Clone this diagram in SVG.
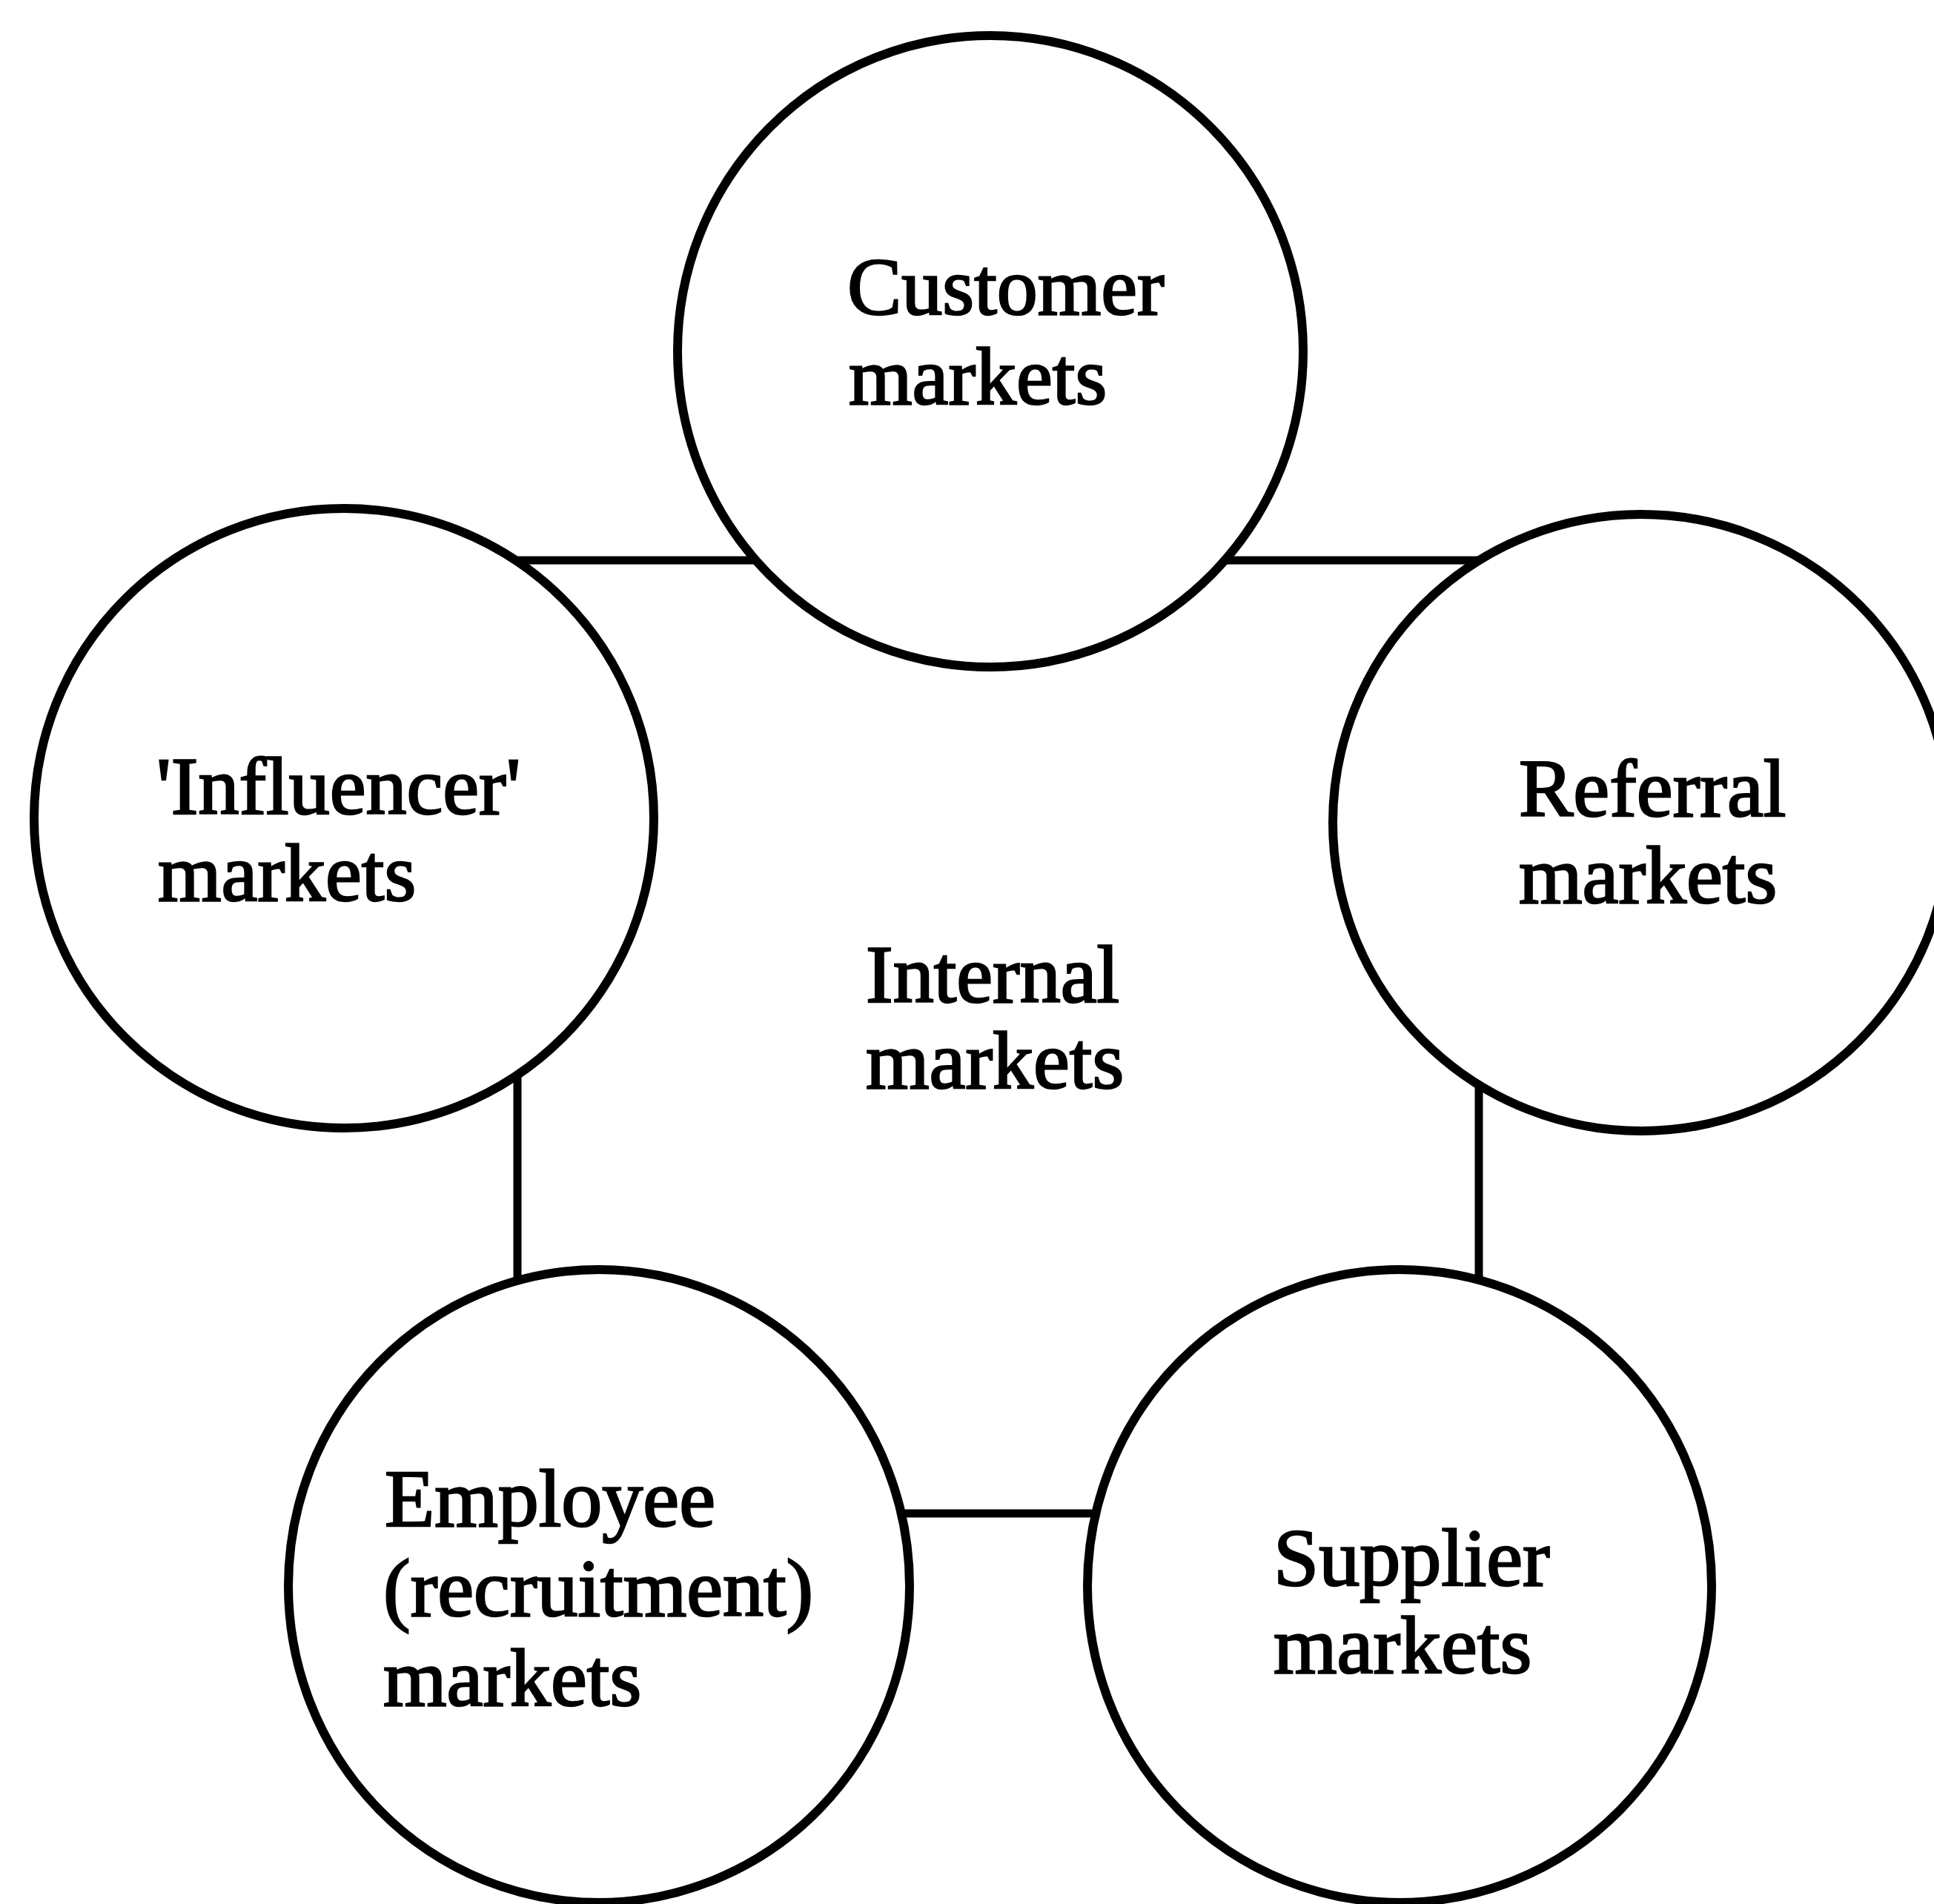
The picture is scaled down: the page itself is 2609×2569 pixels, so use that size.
<svg xmlns="http://www.w3.org/2000/svg" width="2609" height="2569" viewBox="0 0 2609 2569">
  <style>
    .bg { fill: #ffffff; }
    .link { stroke: #000000; stroke-width: 11; fill: none; }
    .market { fill: #ffffff; stroke: #000000; stroke-width: 12; }
    .label { font-family: "Liberation Serif", "DejaVu Serif", serif; font-size: 110px; fill: #000000; stroke: #000000; stroke-width: 2.5; }
  </style>
  <rect class="bg" x="0" y="0" width="2609" height="2569"/>

  <!-- frame joining the five outer markets -->
  <g id="connectors">
    <line class="link" x1="600" y1="756" x2="1100" y2="756"/>
    <line class="link" x1="1580" y1="756" x2="2100" y2="756"/>
    <line class="link" x1="698" y1="1400" x2="698" y2="1800"/>
    <line class="link" x1="1995" y1="1400" x2="1995" y2="1800"/>
    <line class="link" x1="1150" y1="2042" x2="1550" y2="2042"/>
  </g>

  <g id="internal-markets">
    <text class="label" x="1168" y="1352">Internal</text>
    <text class="label" x="1168" y="1468">markets</text>
  </g>

  <g id="customer-markets">
    <ellipse class="market" cx="1336" cy="474" rx="422" ry="426"/>
    <text class="label" x="1143" y="424">Customer</text>
    <text class="label" x="1145" y="545">markets</text>
  </g>

  <g id="influencer-markets">
    <circle class="market" cx="464" cy="1104" r="418"/>
    <text class="label" x="211" y="1098">'Influencer'</text>
    <text class="label" x="213" y="1215">markets</text>
  </g>

  <g id="referral-markets">
    <circle class="market" cx="2214" cy="1110" r="416"/>
    <text class="label" x="2049" y="1101">Referral</text>
    <text class="label" x="2049" y="1218">markets</text>
  </g>

  <g id="employee-markets">
    <ellipse class="market" cx="808" cy="2140" rx="419" ry="427"/>
    <text class="label" x="519" y="2059">Employee</text>
    <text class="label" x="517" y="2180">(recruitment)</text>
    <text class="label" x="517" y="2301">markets</text>
  </g>

  <g id="supplier-markets">
    <ellipse class="market" cx="1888" cy="2140" rx="421" ry="427"/>
    <text class="label" x="1718" y="2139">Supplier</text>
    <text class="label" x="1718" y="2257">markets</text>
  </g>
</svg>
